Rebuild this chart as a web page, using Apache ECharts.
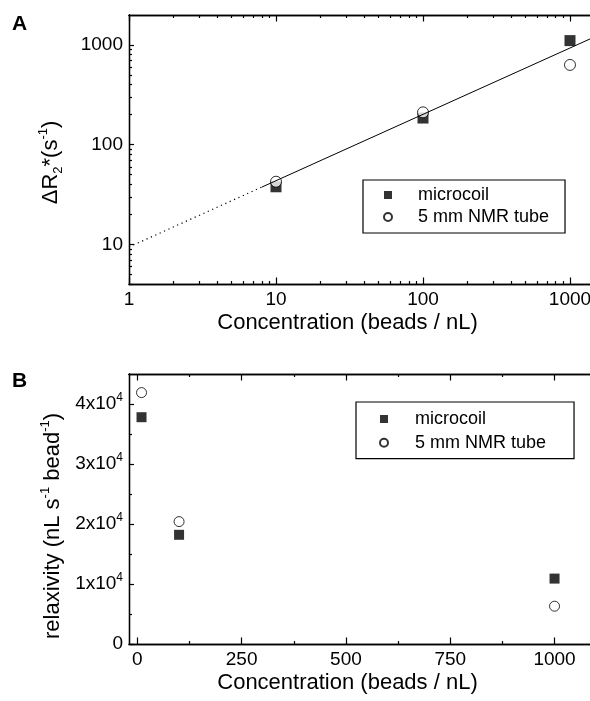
<!DOCTYPE html>
<html>
<head>
<meta charset="utf-8">
<script src="https://cdn.jsdelivr.net/npm/echarts@6/dist/echarts.min.js"></script>
<style>
  html, body { margin: 0; padding: 0; background: #fff; }
  #chart { width: 590px; height: 701px; }
</style>
</head>
<body>
<div id="chart"></div>
<script>
// panel A: dR2* against concentration, log-log
const concA = [10, 100, 1000];
const r2Microcoil = [37.8, 185, 1107];
const r2Tube = [42.5, 211, 631];
// fitted line (dotted part, then solid part)
const fitDottedX = [1, 8];
const fitDottedY = [9.4, 37.5];
const fitSolidX = [8, 1368];
const fitSolidY = [37.5, 1150];

// panel B: relaxivity against concentration
const concB = [10, 100, 1000];
const relaxMicrocoil = [37800, 18200, 10900];
const relaxTube = [41900, 20400, 6300];

const seriesNames = ['microcoil', '5 mm NMR tube'];

// tick positions
const xTicksA = [1, 10, 100, 1000];
const xMinorA = [2, 3, 4, 5, 6, 7, 8, 9, 20, 30, 40, 50, 60, 70, 80, 90, 200, 300, 400, 500, 600, 700, 800, 900];
const yTicksA = [10, 100, 1000];
const yMinorA = [4, 5, 6, 7, 8, 9, 20, 30, 40, 50, 60, 70, 80, 90, 200, 300, 400, 500, 600, 700, 800, 900];
const xTicksB = [0, 250, 500, 750, 1000];
const xMinorB = [125, 375, 625, 875];
const yTicksB = [0, 10000, 20000, 30000, 40000];
const yMinorB = [5000, 15000, 25000, 35000];

const FONT = '"Liberation Sans", Arial, Helvetica, sans-serif';

const chart = echarts.init(document.getElementById('chart'));

// one axis (major or minor ticks), ticks pointing inward
function makeAxis(grid, type, min, max, position, ticks, tickLen, label) {
  const ax = {
    type: type,
    gridIndex: grid,
    min: min,
    max: max,
    position: position,
    axisLine: { show: true, onZero: false, lineStyle: { color: '#000', width: 1.3 } },
    axisTick: { show: true, inside: true, length: tickLen, customValues: ticks, lineStyle: { color: '#000', width: 1.2 } },
    axisLabel: { show: false },
    splitLine: { show: false },
    minorTick: { show: false }
  };
  if (type === 'log') ax.logBase = 10;
  if (label) {
    ax.axisLabel = Object.assign({
      show: true, customValues: ticks, color: '#000', fontFamily: FONT, fontSize: 19, margin: 6,
      formatter: function (v) { return String(v); }
    }, label);
  }
  return ax;
}

const nameStyle = { fontFamily: FONT, fontSize: 22, color: '#000' };

const xNameA = { name: 'Concentration (beads / nL)', nameLocation: 'middle', nameGap: 28,
  nameTextStyle: Object.assign({ padding: [0, 24, 0, 0] }, nameStyle) };
const xNameB = { name: 'Concentration (beads / nL)', nameLocation: 'middle', nameGap: 28,
  nameTextStyle: Object.assign({ padding: [0, 24, 0, 0] }, nameStyle) };

const yNameA = {
  name: '{m|\u0394R}{sub|2}{m|*(s}{sup|-1}{m|)}',
  nameLocation: 'middle', nameGap: 64,
  nameTextStyle: Object.assign({ padding: [0, 26, 0, 0], rich: {
    m: { fontFamily: FONT, fontSize: 22, lineHeight: 28, color: '#000' },
    sub: { fontFamily: FONT, fontSize: 13, lineHeight: 13, verticalAlign: 'bottom', color: '#000' },
    sup: { fontFamily: FONT, fontSize: 13, lineHeight: 13, verticalAlign: 'top', color: '#000' }
  } }, nameStyle)
};
const yNameB = {
  name: '{m|relaxivity (nL s}{sup|-1}{m| bead}{sup|-1}{m|)}',
  nameLocation: 'middle', nameGap: 62,
  nameTextStyle: Object.assign({ padding: [0, 34, 0, 0], rich: {
    m: { fontFamily: FONT, fontSize: 22, lineHeight: 28, color: '#000' },
    sup: { fontFamily: FONT, fontSize: 13, lineHeight: 13, verticalAlign: 'top', color: '#000' }
  } }, nameStyle)
};

const xAxes = [
  Object.assign(makeAxis(0, 'log', 1, 1368, 'bottom', xTicksA, 6.5, {}), xNameA),
  makeAxis(0, 'log', 1, 1368, 'bottom', xMinorA, 3),
  makeAxis(0, 'log', 1, 1368, 'top', xTicksA, 6.5),
  makeAxis(0, 'log', 1, 1368, 'top', xMinorA, 3),
  Object.assign(makeAxis(1, 'value', -20, 1085, 'bottom', xTicksB, 6.5, {}), xNameB),
  makeAxis(1, 'value', -20, 1085, 'bottom', xMinorB, 3),
  makeAxis(1, 'value', -20, 1085, 'top', xTicksB, 6.5),
  makeAxis(1, 'value', -20, 1085, 'top', xMinorB, 3)
];

const yAxes = [
  Object.assign(makeAxis(0, 'log', 4, 2000, 'left', yTicksA, 5, {}), yNameA),
  makeAxis(0, 'log', 4, 2000, 'left', yMinorA, 3),
  Object.assign(makeAxis(1, 'value', 0, 45000, 'left', yTicksB, 5, {
    formatter: function (v) { return v === 0 ? '{m|0}' : '{m|' + (v / 10000) + 'x10}{sup|4}'; },
    rich: {
      m: { fontFamily: FONT, fontSize: 19, lineHeight: 24, color: '#000' },
      sup: { fontFamily: FONT, fontSize: 12, lineHeight: 12, verticalAlign: 'top', color: '#000' }
    }
  }), yNameB),
  makeAxis(1, 'value', 0, 45000, 'left', yMinorB, 3)
];

const squareStyle = { color: '#000' };
const circleStyle = { color: '#fff', borderColor: '#000', borderWidth: 1 };

const option = {
  animation: false,
  backgroundColor: '#fff',
  title: [
    { text: 'A', left: 12, top: 14, padding: 0, textStyle: { fontFamily: FONT, fontSize: 21, fontWeight: 'bold', color: '#000' } },
    { text: 'B', left: 12, top: 371, padding: 0, textStyle: { fontFamily: FONT, fontSize: 21, fontWeight: 'bold', color: '#000' } }
  ],
  grid: [
    { left: 129, top: 15, width: 461, height: 269, outerBoundsMode: 'none' },
    { left: 129, top: 374, width: 461, height: 270, outerBoundsMode: 'none' }
  ],
  legend: [
    {
      data: seriesNames, orient: 'vertical', left: 363, top: 180,
      padding: [6, 16, 7, 20], itemGap: 4, itemWidth: 8, itemHeight: 8,
      borderColor: '#000', borderWidth: 1.2, borderRadius: 0, selectedMode: false,
      textStyle: { fontFamily: FONT, fontSize: 18, color: '#000', padding: [0, 0, 0, 21] }
    },
    {
      data: seriesNames, orient: 'vertical', left: 356, top: 402,
      padding: [8, 28, 7, 23], itemGap: 5.7, itemWidth: 8, itemHeight: 8,
      borderColor: '#000', borderWidth: 1.2, borderRadius: 0, selectedMode: false,
      textStyle: { fontFamily: FONT, fontSize: 18, color: '#000', padding: [0, 0, 0, 22] }
    }
  ],
  xAxis: xAxes,
  yAxis: yAxes,
  series: [
    {
      type: 'line', xAxisIndex: 0, yAxisIndex: 0, symbol: 'none', silent: true,
      lineStyle: { color: '#000', width: 1.2, type: [1.2, 3.6] },
      data: fitDottedX.map((x, i) => [x, fitDottedY[i]])
    },
    {
      type: 'line', xAxisIndex: 0, yAxisIndex: 0, symbol: 'none', silent: true,
      lineStyle: { color: '#000', width: 1 },
      data: fitSolidX.map((x, i) => [x, fitSolidY[i]])
    },
    {
      name: seriesNames[0], type: 'scatter', xAxisIndex: 0, yAxisIndex: 0,
      symbol: 'rect', symbolSize: 11, itemStyle: squareStyle,
      data: concA.map((c, i) => [c, r2Microcoil[i]])
    },
    {
      name: seriesNames[1], type: 'scatter', xAxisIndex: 0, yAxisIndex: 0,
      symbol: 'circle', symbolSize: 11, itemStyle: circleStyle,
      data: concA.map((c, i) => [c, r2Tube[i]])
    },
    {
      name: seriesNames[0], type: 'scatter', xAxisIndex: 4, yAxisIndex: 2,
      symbol: 'rect', symbolSize: 10, itemStyle: squareStyle,
      data: concB.map((c, i) => [c, relaxMicrocoil[i]])
    },
    {
      name: seriesNames[1], type: 'scatter', xAxisIndex: 4, yAxisIndex: 2,
      symbol: 'circle', symbolSize: 10, itemStyle: circleStyle,
      data: concB.map((c, i) => [c, relaxTube[i]])
    }
  ]
};

chart.setOption(option);
</script>
</body>
</html>
